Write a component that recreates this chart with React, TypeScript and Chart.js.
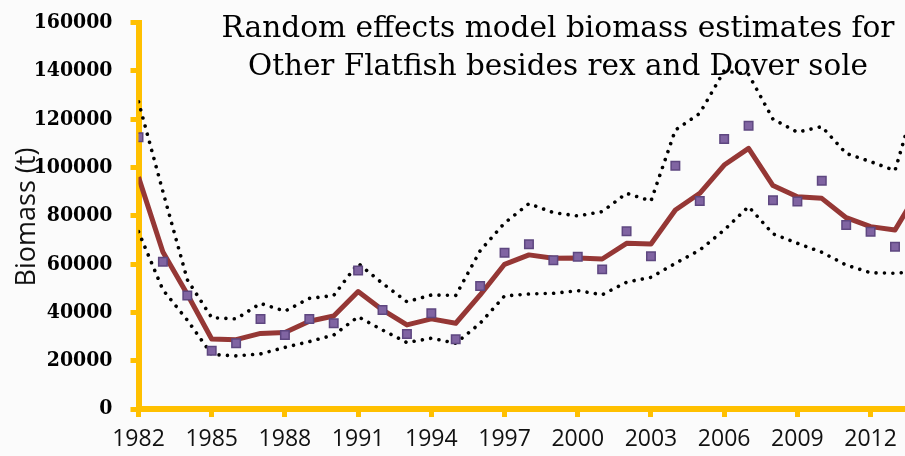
import { useEffect, useRef } from "react";
import { Chart, registerables } from "chart.js";

Chart.register(...registerables);

const years = [
  1982, 1983, 1984, 1985, 1986, 1987, 1988, 1989, 1990, 1991, 1992,
  1993, 1994, 1995, 1996, 1997, 1998, 1999, 2000, 2001, 2002, 2003,
  2004, 2005, 2006, 2007, 2008, 2009, 2010, 2011, 2012, 2013, 2014,
];

const surveyBiomass = [
  112500, 61000, 47000, 24100, 27200, 37300, 30600, 37300, 35500, 57300, 41000,
  31000, 39600, 28900, 50900, 64700, 68200, 61600, 63000, 57800, 73600, 63200,
  100700, 86100, 111800, 117300, 86400, 85900, 94500, 76200, 73400, 67200, null,
];

const modelEstimate = [
  96000, 65000, 47500, 29000, 28700, 31300, 31700, 36300, 38500, 48600, 41000,
  34800, 37300, 35500, 47200, 59900, 63800, 62400, 62500, 62100, 68600, 68300,
  82400, 89300, 101000, 107900, 92500, 87900, 87200, 79200, 75500, 74100, 91000,
];

const upperCI = [
  127200, 90000, 53500, 37800, 37300, 43700, 40500, 45800, 47000, 60300, 52000,
  44400, 47200, 47000, 65500, 77000, 85000, 81300, 79900, 81700, 89300, 86100,
  115500, 122400, 140000, 138500, 120000, 114600, 116900, 105800, 102400, 98700, 133000,
];

const lowerCI = [
  73400, 49300, 36800, 22600, 22000, 22800, 25500, 27900, 30600, 38200, 32700,
  27500, 29300, 27200, 35500, 46800, 47600, 47900, 49000, 47300, 52500, 54500,
  60300, 65800, 74100, 83800, 72500, 68600, 64900, 59600, 56400, 56200, 57000,
];

const xTickYears = [1982, 1985, 1988, 1991, 1994, 1997, 2000, 2003, 2006, 2009, 2012];

const titleLines = [
  "Random effects model biomass estimates for",
  "Other Flatfish besides rex and Dover sole",
];
const yAxisTitle = "Biomass (t)";

const AXIS_COLOR = "#FFC000";

const toPoints = (vals: (number | null)[]) =>
  years.map((yr, i) => ({ x: yr, y: vals[i] }));

const backgroundPlugin = {
  id: "bg",
  beforeDraw(chart: any) {
    const ctx = chart.ctx;
    ctx.save();
    ctx.fillStyle = "#FBFBFB";
    ctx.fillRect(0, 0, chart.width, chart.height);
    ctx.restore();
  },
};

const textPlugin = {
  id: "texts",
  afterDraw(chart: any) {
    const ctx = chart.ctx;
    ctx.save();
    ctx.fillStyle = "#000";
    ctx.font = "29px 'DejaVu Serif'";
    ctx.textAlign = "center";
    ctx.textBaseline = "alphabetic";
    const targets = [
      { cx: 558, base: 36.5, w: 673 },
      { cx: 558, base: 75, w: 620 },
    ];
    titleLines.forEach((line, i) => {
      const t = targets[i];
      const m = ctx.measureText(line).width;
      const s = t.w / m;
      ctx.save();
      ctx.translate(t.cx, t.base);
      ctx.scale(s, 1);
      ctx.fillText(line, 0, 0);
      ctx.restore();
    });
    ctx.font = "27px 'Open Sans'";
    ctx.fillStyle = "#111";
    ctx.translate(35, 217);
    ctx.rotate(-Math.PI / 2);
    ctx.textAlign = "center";
    ctx.fillText(yAxisTitle, 0, 0);
    ctx.restore();
  },
};

export default function App() {
  const canvasRef = useRef<HTMLCanvasElement | null>(null);

  useEffect(() => {
    if (!canvasRef.current) return;
    const chart = new Chart(canvasRef.current, {
      type: "line",
      data: {
        datasets: [
          {
            label: "Survey biomass",
            data: toPoints(surveyBiomass),
            showLine: false,
            pointStyle: "rect",
            pointRadius: 6,
            pointBackgroundColor: "#8064A2",
            pointBorderColor: "#5E4780",
            pointBorderWidth: 1.5,
            order: 0,
          },
          {
            label: "Model estimate",
            data: toPoints(modelEstimate),
            borderColor: "#953735",
            borderWidth: 5,
            pointRadius: 0,
            borderJoinStyle: "round",
            tension: 0,
            order: 1,
          },
          {
            label: "Upper CI",
            data: toPoints(upperCI),
            borderColor: "#000",
            borderWidth: 3.6,
            borderDash: [0.01, 8.4],
            borderCapStyle: "round",
            pointRadius: 0,
            tension: 0,
            order: 2,
          },
          {
            label: "Lower CI",
            data: toPoints(lowerCI),
            borderColor: "#000",
            borderWidth: 3.6,
            borderDash: [0.01, 8.4],
            borderCapStyle: "round",
            pointRadius: 0,
            tension: 0,
            order: 3,
          },
        ] as any,
      },
      options: {
        responsive: false,
        animation: false,
        events: [],
        layout: { autoPadding: false, padding: { left: 32, top: 22.5, right: 0, bottom: 0 } },
        plugins: {
          legend: { display: false },
          tooltip: { enabled: false },
          title: { display: false },
        },
        scales: {
          x: {
            type: "linear",
            min: 1982,
            max: 2013.41,
            afterBuildTicks: (axis: any) => {
              axis.ticks = xTickYears.map((v) => ({ value: v }));
            },
            afterFit: (s: any) => {
              s.height = 47;
              s.paddingLeft = 0;
              s.paddingRight = 0;
            },
            ticks: {
              autoSkip: false,
              maxRotation: 0,
              padding: 9,
              color: "#111",
              font: { family: "'Open Sans'", size: 23 },
              callback: (v: any) => String(v),
            },
            grid: {
              drawOnChartArea: false,
              drawTicks: true,
              tickLength: 8,
              color: AXIS_COLOR,
              lineWidth: 5,
            },
            border: { display: true, color: AXIS_COLOR, width: 6 },
          },
          y: {
            min: 0,
            max: 160000,
            afterFit: (s: any) => {
              s.width = 106.5;
              s.paddingTop = 0;
              s.paddingBottom = 0;
            },
            ticks: {
              stepSize: 20000,
              padding: 18,
              color: "#000",
              font: { family: "'DejaVu Serif Condensed', 'DejaVu Serif'", size: 21, weight: "bold" },
              callback: (v: any) => String(v),
            },
            grid: {
              drawOnChartArea: false,
              drawTicks: true,
              tickLength: 8,
              color: AXIS_COLOR,
              lineWidth: 5,
            },
            border: { display: true, color: AXIS_COLOR, width: 6 },
          },
        },
      },
      plugins: [backgroundPlugin, textPlugin],
    } as any);
    return () => chart.destroy();
  }, []);

  return (
    <div style={{ position: "fixed", left: 0, top: 0, width: 905, height: 456, overflow: "hidden" }}>
      <canvas ref={canvasRef} width={905} height={456} />
    </div>
  );
}
